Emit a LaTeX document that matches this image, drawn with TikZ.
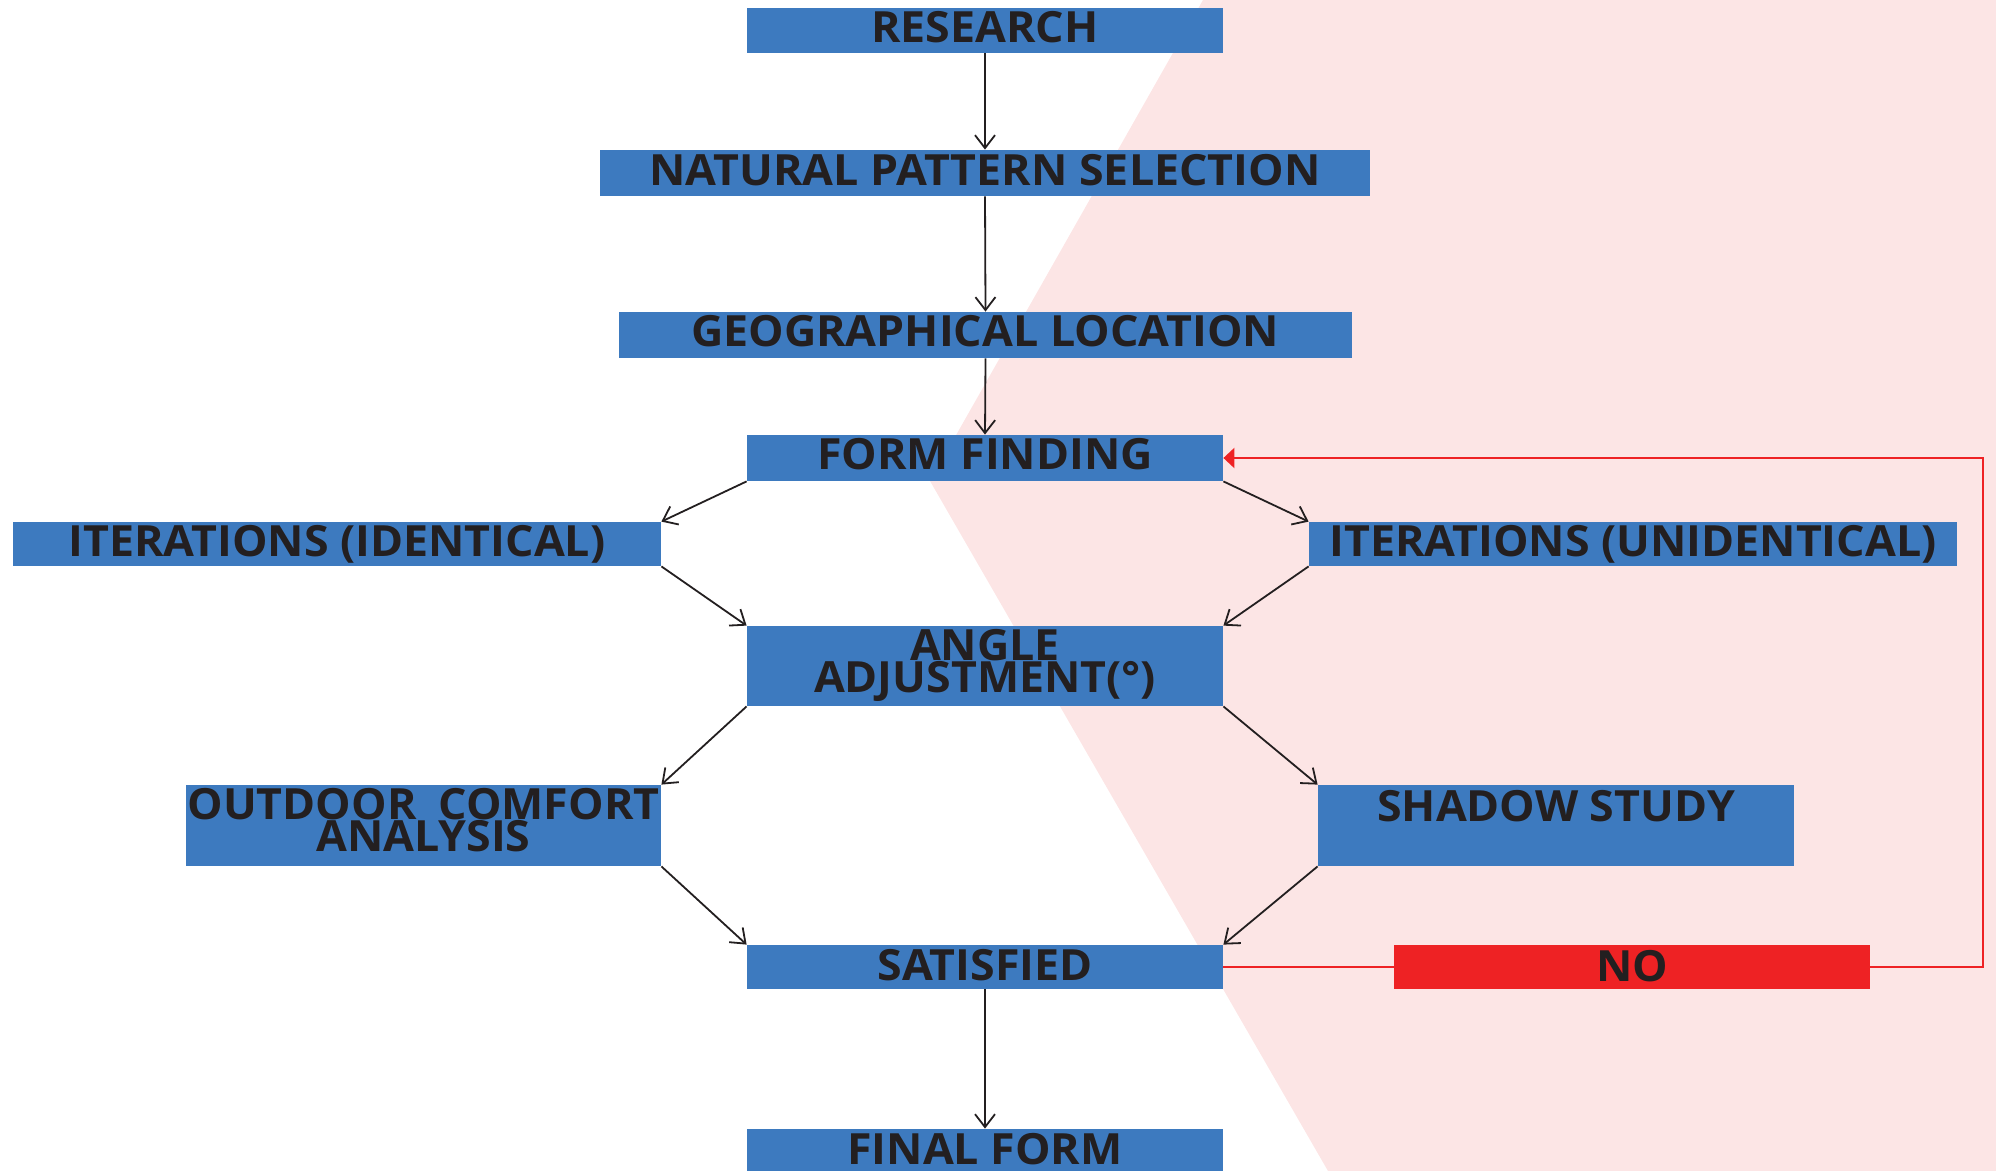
\documentclass[tikz,border=0pt]{standalone}
\usepackage{fontspec}
\setmainfont[FakeStretch=1.04]{Open Sans}
\usetikzlibrary{arrows.meta}
\definecolor{boxblue}{HTML}{3D7ABF}
\definecolor{txt}{HTML}{231F20}
\definecolor{pinkbg}{HTML}{FCE5E5}
\definecolor{nored}{HTML}{EE2224}
\tikzset{
  box/.style={fill=boxblue, draw=none, inner sep=0pt, anchor=center},
  nobox/.style={fill=nored, draw=none, inner sep=0pt, anchor=center},
  lbl/.style={font=\fontsize{21.5}{16}\selectfont\bfseries, text=txt, inner sep=0pt, align=center},
  conn/.style={draw=txt, line width=0.9pt, -{Straight Barb[length=6.5pt,width=10pt]}},
  back/.style={draw=nored, line width=1.2pt},
}
\begin{document}
\begin{tikzpicture}[x=0.5pt,y=-0.5pt]
\useasboundingbox (0,0) rectangle (1996,1171);
\clip (0,0) rectangle (1996,1171);
\fill[pinkbg] (1203,0) -- (930,481) -- (1328,1171) -- (1996,1171) -- (1996,0) -- cycle;

% boxes
\node[box, minimum width=238pt, minimum height=22.5pt] (research) at (985,30.5) {};
\node[box, minimum width=385pt, minimum height=23pt] (natural) at (985,173) {};
\node[box, minimum width=366.5pt, minimum height=23pt] (geo) at (985.5,335) {};
\node[box, minimum width=238pt, minimum height=23pt] (form) at (985,458) {};
\node[box, minimum width=324pt, minimum height=22pt] (itid) at (337,544) {};
\node[box, minimum width=324pt, minimum height=22pt] (itun) at (1633,544) {};
\node[box, minimum width=238pt, minimum height=40pt] (angle) at (985,666) {};
\node[box, minimum width=237.5pt, minimum height=40.5pt] (outdoor) at (423.5,825.5) {};
\node[box, minimum width=238pt, minimum height=40.5pt] (shadow) at (1556,825.5) {};
\node[box, minimum width=238pt, minimum height=22pt] (satisfied) at (985,967) {};
\node[nobox, minimum width=238pt, minimum height=22pt] (no) at (1632,967) {};
\node[box, minimum width=238pt, minimum height=31pt] (final) at (985,1160) {};

% labels
\node[lbl, anchor=base] (tresearch) at (985,43) {RESEARCH};
\node[lbl, anchor=base] (tnatural) at (985,185.5) {NATURAL PATTERN SELECTION};
\node[lbl, anchor=base] (tgeo) at (985,347) {GEOGRAPHICAL LOCATION};
\node[lbl, anchor=base] (tform) at (985,469.5) {FORM FINDING};
\node[lbl, anchor=base] (titid) at (337,556) {ITERATIONS (IDENTICAL)};
\node[lbl, anchor=base] (titun) at (1633,556) {ITERATIONS (UNIDENTICAL)};
\node[lbl, anchor=north] (tangle) at (985,629) {ANGLE\\ADJUSTMENT(°)};
\node[lbl, anchor=north] (toutdoor) at (423.5,788) {\makebox[236pt]{OUTDOOR\hfill COMFORT}\\ANALYSIS};
\node[lbl, anchor=base] (tshadow) at (1556,821) {SHADOW STUDY};
\node[lbl, anchor=base] (tsatisfied) at (985,980) {SATISFIED};
\node[lbl, anchor=base] (tno) at (1632,981) {NO};
\node[lbl, anchor=base] (tfinal) at (985,1164) {FINAL FORM};

% connectors
\draw[conn] (research.south) -- (natural.north);
\draw[conn] (natural.south) -- (geo.north);
\draw[conn] (geo.south) -- (form.north);
\draw[conn] (form.south west) -- (itid.north east);
\draw[conn] (form.south east) -- (itun.north west);
\draw[conn] (itid.south east) -- (angle.north west);
\draw[conn] (itun.south west) -- (angle.north east);
\draw[conn] (angle.south west) -- (outdoor.north east);
\draw[conn] (angle.south east) -- (shadow.north west);
\draw[conn] (outdoor.south east) -- (satisfied.north west);
\draw[conn] (shadow.south west) -- (satisfied.north east);
\draw[conn] (satisfied.south) -- (final.north);

% feedback loop
\coordinate (rc) at (1983,967);
\draw[back] (satisfied.east) -- (no.west);
\draw[back, -{Triangle[length=5.5pt,width=10pt]}] (no.east) -- (rc) |- (form.east);
\end{tikzpicture}
\end{document}
